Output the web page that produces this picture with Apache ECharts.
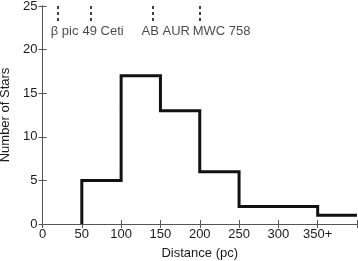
<!DOCTYPE html>
<html><head><meta charset="utf-8">
<script src="https://cdn.jsdelivr.net/npm/echarts@6/dist/echarts.min.js"></script>
<style>html,body{margin:0;padding:0;background:#fff}#c{width:358px;height:261px}</style>
</head><body><div id="c"></div>
<script>
const binEdges = [50, 100, 150, 200, 250, 300, 350, 400];
const counts = [5, 17, 13, 6, 2, 2, 1];
const markerNames = ['β pic', '49 Ceti', 'AB AUR', 'MWC 758'];
const markerDist = [19.4, 61, 140, 200];
const xTicks = [0, 50, 100, 150, 200, 250, 300, 350];
const xTickLabels = ['0', '50', '100', '150', '200', '250', '300', '350+'];
const yTicks = [0, 5, 10, 15, 20, 25];

const labelShift = [-7, -8, -11, -7];

const pts = [[binEdges[0], 0]];
counts.forEach((c, i) => { pts.push([binEdges[i], c]); pts.push([binEdges[i + 1], c]); });

const font = 'Liberation Sans, Arial, sans-serif';
const axisCol = '#555';
const txt = '#1a1a1a';

const markLines = markerDist.map(d => [{coord: [d, 25]}, {coord: [d, 23]}]);
const labelPts = markerDist.map((d, i) => ({value: [d, 22.05], name: markerNames[i],
  label: {offset: [labelShift[i], 0]}}));

const chart = echarts.init(document.getElementById('c'));
chart.setOption({
  animation: false,
  grid: {left: 42.5, right: 1, top: 6, bottom: 37, containLabel: false, outerBoundsMode: 'none'},
  xAxis: [{
    type: 'value', min: 0, max: 400, interval: 50,
    name: 'Distance (pc)', nameLocation: 'middle', nameGap: 23,
    nameTextStyle: {fontFamily: font, fontSize: 13, color: txt},
    axisLine: {show: true, lineStyle: {color: axisCol, width: 1}},
    axisTick: {show: true, inside: true, length: 4, lineStyle: {color: axisCol}},
    axisLabel: {fontFamily: font, fontSize: 13, color: txt, margin: 4,
      formatter: v => { const k = xTicks.indexOf(v); return k >= 0 ? xTickLabels[k] : ''; }},
    splitLine: {show: false}
  }, {
    type: 'value', min: 0, max: 400, interval: 50, position: 'top',
    axisLine: {show: true, lineStyle: {color: axisCol, width: 1}},
    axisTick: {show: true, inside: true, length: 4, lineStyle: {color: axisCol}},
    axisLabel: {show: false}, splitLine: {show: false}
  }],
  yAxis: [{
    type: 'value', min: yTicks[0], max: yTicks[yTicks.length - 1], interval: 5,
    name: 'Number of Stars', nameLocation: 'middle', nameGap: 23,
    nameTextStyle: {fontFamily: font, fontSize: 13, color: txt},
    axisLine: {show: true, lineStyle: {color: axisCol, width: 1}},
    axisTick: {show: true, inside: true, length: 4, lineStyle: {color: axisCol}},
    axisLabel: {fontFamily: font, fontSize: 13, color: txt, margin: 5},
    splitLine: {show: false}
  }, {
    type: 'value', min: 0, max: 25, interval: 5, position: 'right',
    axisLine: {show: true, lineStyle: {color: axisCol, width: 1}},
    axisTick: {show: true, inside: true, length: 4, lineStyle: {color: axisCol}},
    axisLabel: {show: false}, splitLine: {show: false}
  }],
  series: [{
    type: 'line', data: pts, showSymbol: false, symbol: 'none',
    lineStyle: {color: '#111', width: 3, join: 'miter', cap: 'butt'},
    markLine: {
      silent: true, symbol: ['none', 'none'], label: {show: false},
      lineStyle: {color: '#111', width: 1.6, type: [3, 3], opacity: 1},
      data: markLines
    }
  }, {
    type: 'scatter', data: labelPts, symbolSize: 0.01, silent: true,
    label: {show: true, position: 'inside', align: 'left',
      formatter: p => p.name, fontFamily: font, fontSize: 13, color: txt}
  }]
});
</script></body></html>
